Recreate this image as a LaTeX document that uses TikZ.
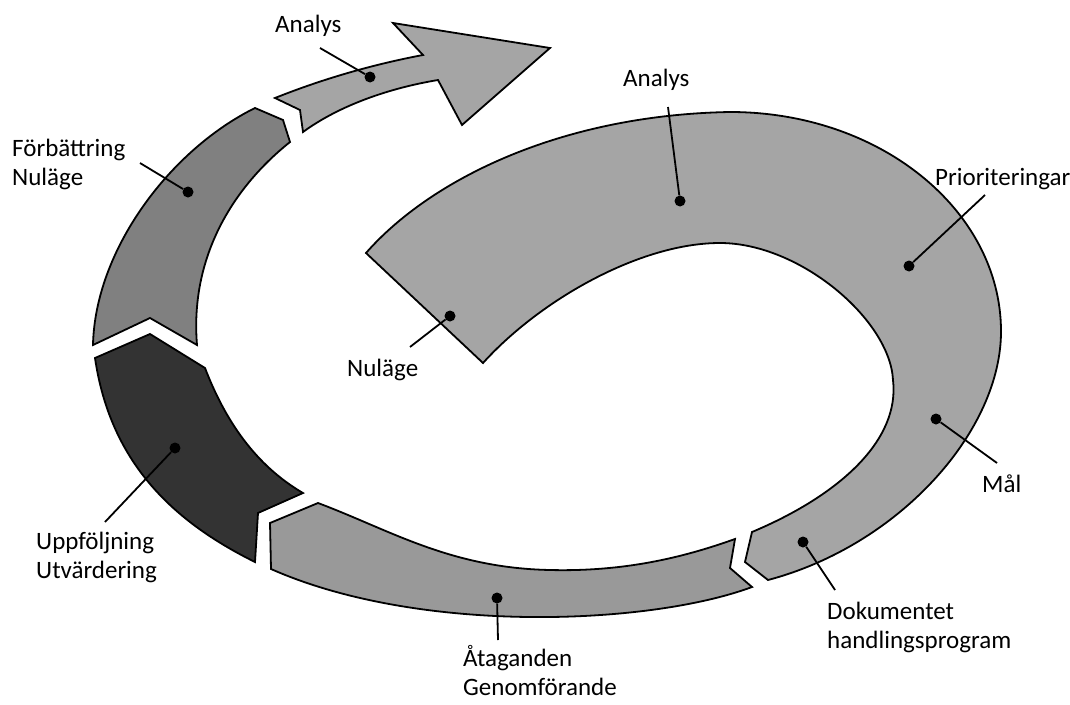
\documentclass[tikz,border=0pt]{standalone}
\usepackage{fontspec}
\setmainfont{Carlito}
\begin{document}
\begin{tikzpicture}[x=1pt,y=-1pt]
\tikzset{
  seg/.style={draw=black, line width=1.8pt, line join=miter},
  lbl/.style={font=\fontsize{25}{29}\selectfont, align=left, inner sep=0pt, anchor=base west},
  dotn/.style={circle, fill=black, inner sep=0pt, minimum size=11pt},
  lead/.style={line width=1.8pt}
}
\definecolor{lightg}{HTML}{A5A5A5}
\definecolor{midg}{HTML}{808080}
\definecolor{darkg}{HTML}{333333}
\definecolor{atag}{HTML}{999999}
\useasboundingbox (0,0) rectangle (1070,704);

% big shape
\draw[seg, fill=lightg] (366,253)
  .. controls (430,180) and (560,115) .. (730,112)
  .. controls (880,112) and (1000,210) .. (1001,330)
  .. controls (1002,430) and (900,545) .. (768,580)
  -- (745,562) -- (752,532)
  .. controls (840,495) and (900,440) .. (893,380)
  .. controls (890,320) and (800,243) .. (720,243)
  .. controls (640,243) and (540,300) .. (483,363)
  -- cycle;

% Ataganden
\draw[seg, fill=atag] (318,503)
  .. controls (390,530) and (450,568) .. (550,570)
  .. controls (630,572) and (690,555) .. (735,539)
  -- (730,568) -- (752,587)
  .. controls (650,625) and (420,635) .. (271,569)
  -- (270,523) -- cycle;

% Uppfoljning
\draw[seg, fill=darkg] (95,358) -- (150,334) -- (205,368)
  .. controls (225,420) and (255,465) .. (303,493)
  -- (258,513) -- (255,562)
  .. controls (170,520) and (110,460) .. (95,358)
  -- cycle;

% Forbattring
\draw[seg, fill=midg] (93,345)
  .. controls (95,250) and (170,150) .. (255,108)
  -- (283,120) -- (290,142)
  .. controls (230,190) and (190,260) .. (197,345)
  -- (150,318) -- cycle;

% top arrow
\draw[seg, fill=lightg] (275,98)
  .. controls (320,80) and (370,65) .. (423,55)
  -- (393,23) -- (550,48) -- (462,125) -- (438,80)
  .. controls (390,88) and (340,105) .. (303,132)
  -- (300,110) -- cycle;

% labels (base = baseline of last line)
\node[lbl] (tAnalys1) at (275,32) {Analys};
\node[lbl] (tAnalys2) at (623,86) {Analys};
\node[lbl] (tNulage) at (347,376) {Nuläge};
\node[lbl] (tPrio) at (935,185) {Prioriteringar};
\node[lbl] (tMal) at (982,492) {Mål};
\node[lbl] (tDok) at (827,648) {Dokumentet\\handlingsprogram};
\node[lbl] (tAta) at (463,695) {Åtaganden\\Genomförande};
\node[lbl] (tUpp) at (36,578) {Uppföljning\\Utvärdering};
\node[lbl] (tForb) at (12,185) {Förbättring\\Nuläge};

% leader free ends
\coordinate (cAnalys1) at (320,48);
\coordinate (cAnalys2) at (668,107);
\coordinate (cNulage) at (410,347);
\coordinate (cPrio) at (985,195);
\coordinate (cMal) at (997,463);
\coordinate (cDok) at (835,590);
\coordinate (cAta) at (498,640);
\coordinate (cUpp) at (105,522);
\coordinate (cForb) at (140,163);

% dots
\node[dotn] (dAnalys1) at (370,77) {};
\node[dotn] (dAnalys2) at (680,201) {};
\node[dotn] (dNulage) at (450,316) {};
\node[dotn] (dPrio) at (909,266) {};
\node[dotn] (dMal) at (936,419) {};
\node[dotn] (dDok) at (803,542) {};
\node[dotn] (dAta) at (497,598) {};
\node[dotn] (dUpp) at (175,448) {};
\node[dotn] (dForb) at (188,192) {};

\draw[lead] (cAnalys1) -- (dAnalys1);
\draw[lead] (cAnalys2) -- (dAnalys2);
\draw[lead] (cNulage) -- (dNulage);
\draw[lead] (cPrio) -- (dPrio);
\draw[lead] (cMal) -- (dMal);
\draw[lead] (cDok) -- (dDok);
\draw[lead] (cAta) -- (dAta);
\draw[lead] (cUpp) -- (dUpp);
\draw[lead] (cForb) -- (dForb);
\end{tikzpicture}
\end{document}
